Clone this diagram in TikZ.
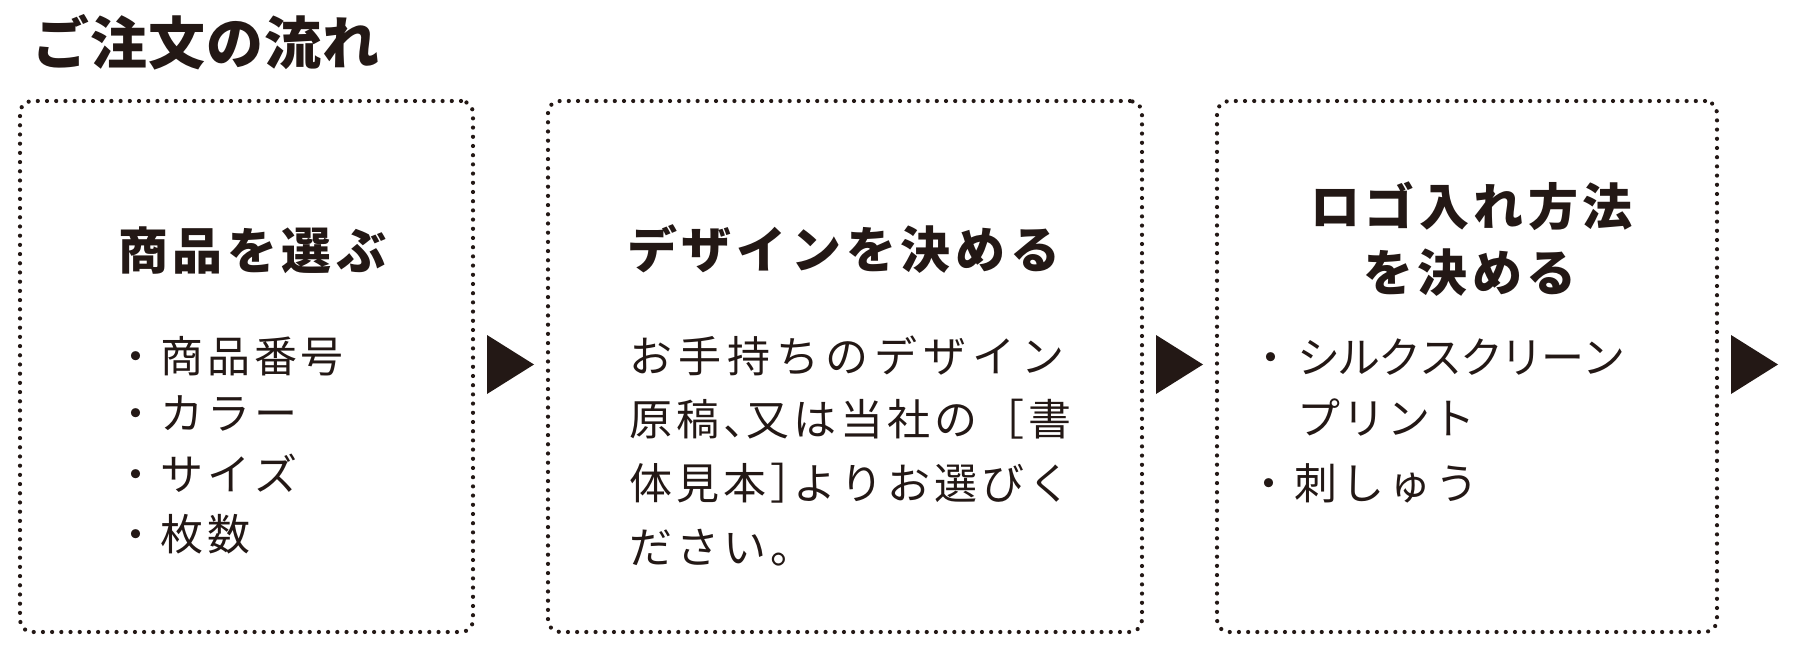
\documentclass[tikz,border=0pt]{standalone}
\usepackage{fontspec}
\newfontfamily\jp{Noto Sans CJK JP}
\definecolor{ink}{HTML}{231815}
\newlength\pitchw
\makeatletter
\newcommand\pitched[2]{\setlength\pitchw{#1pt}\@tfor\pitchch:=#2\do{\makebox[\pitchw][l]{\pitchch}}}
\makeatother
\newcommand\halfw[2]{\makebox[#1pt][l]{#2}}
\tikzset{
  stepbox/.style={draw=ink, line width=4.2pt, dash pattern=on 0pt off 9.2pt, line cap=round, rounded corners=12pt, inner sep=0pt},
  txt/.style={inner sep=0pt, anchor=base west, text=ink},
  ttl/.style={txt, font=\jp\bfseries\fontsize{57pt}{57pt}\selectfont},
  hd/.style={txt, font=\jp\bfseries\fontsize{50pt}{50pt}\selectfont},
  bd/.style={txt, font=\jp\fontsize{43pt}{43pt}\selectfont},
  tri/.style={fill=ink}
}
\begin{document}
\begin{tikzpicture}[x=1pt,y=-1pt]
\useasboundingbox (0,0) rectangle (1800,663);
\node[ttl] (title) at (32,64.7) {\pitched{58}{ご注文の流れ}};
% boxes
\node[stepbox, minimum width=453pt, minimum height=531pt] (b1) at (246.5,366.5) {};
\node[stepbox, minimum width=594pt, minimum height=531pt] (b2) at (845,366.5) {};
\node[stepbox, minimum width=500pt, minimum height=531pt] (b3) at (1467,366.5) {};
% box 1
\node[hd] (h1) at (118,270) {\pitched{54.5}{商品を選ぶ}};
\node[bd] (l11) at (114,372) {\pitched{46.7}{・商品番号}};
\node[bd] (l12) at (114,429) {\pitched{46.7}{・カラー}};
\node[bd] (l13) at (114,490) {\pitched{46.7}{・サイズ}};
\node[bd] (l14) at (114,550) {\pitched{46.7}{・枚数}};
% box 2
\node[hd] (h2) at (627,269) {\pitched{54.7}{デザインを決める}};
\node[bd] (l21) at (629,372) {\pitched{49}{お手持ちのデザイン}};
\node[bd] (l22) at (629,435) {\pitched{47}{原稿}\halfw{23.5}{、}\pitched{47}{又は当社の［書}};
\node[bd] (l23) at (629,499) {\pitched{47}{体見本}\halfw{23.5}{］}\pitched{47}{よりお選びく}};
\node[bd] (l24) at (629,563) {\pitched{47}{ださい。}};
% box 3
\node[hd] (h31) at (1310,226) {\pitched{54.5}{ロゴ入れ方法}};
\node[hd] (h32) at (1363,291) {\pitched{54.5}{を決める}};
\node[bd] (l31) at (1249,373) {\pitched{48}{・}\pitched{40.7}{シルクスクリーン}};
\node[bd] (l32) at (1297,434) {\pitched{45}{プリント}};
\node[bd] (l33) at (1247,499) {\pitched{47}{・刺しゅう}};
% arrows
\coordinate (a1) at (487,364.5);
\coordinate (a2) at (1156,364.5);
\coordinate (a3) at (1731,364.5);
\foreach \a in {a1,a2,a3}
  \fill[tri] (\a) ++(0,-29.5) -- ++(0,59) -- ++(47,-29.5) -- cycle;
\end{tikzpicture}
\end{document}
